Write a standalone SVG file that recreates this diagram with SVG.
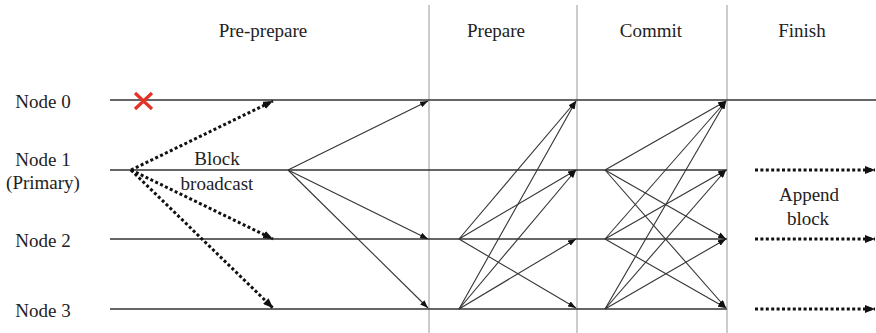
<svg xmlns="http://www.w3.org/2000/svg" width="876" height="333" viewBox="0 0 876 333">
  <style>
    text { font-family: "Liberation Serif", "Times New Roman", serif; font-size: 19px; fill: #222; }
    .mid { text-anchor: middle; }
    .lane { stroke: #333; stroke-width: 1.5; fill: none; }
    .phase { stroke: #999; stroke-width: 1; fill: none; }
    .msg { stroke: #333; stroke-width: 1.1; fill: none; marker-end: url(#arrow); }
    .bcast { stroke: #111; stroke-width: 3; stroke-dasharray: 3 2.4; fill: none; marker-end: url(#arrowBig); }
  </style>
  <defs>
    <marker id="arrow" markerUnits="userSpaceOnUse" viewBox="0 0 8 6" refX="8" refY="3" markerWidth="8" markerHeight="6" orient="auto">
      <path d="M0,0 L8,3 L0,6 Z" fill="#111"/>
    </marker>
    <marker id="arrowBig" markerUnits="userSpaceOnUse" viewBox="0 0 10 8" refX="10" refY="4" markerWidth="10" markerHeight="8" orient="auto">
      <path d="M0,0 L10,4 L0,8 Z" fill="#111"/>
    </marker>
  </defs>

  <!-- phase separators -->
  <g id="separators">
    <line class="phase" x1="429" y1="5" x2="429" y2="333"/>
    <line class="phase" x1="577" y1="5" x2="577" y2="333"/>
    <line class="phase" x1="727" y1="5" x2="727" y2="333"/>
  </g>

  <!-- phase titles -->
  <g id="phases">
    <text class="mid" x="263" y="37">Pre-prepare</text>
    <text class="mid" x="496" y="37">Prepare</text>
    <text class="mid" x="651" y="37">Commit</text>
    <text class="mid" x="802" y="37">Finish</text>
  </g>

  <!-- replica timelines -->
  <g id="node0">
    <text class="mid" x="43" y="108">Node 0</text>
    <line class="lane" x1="110" y1="100" x2="876" y2="100"/>
    <path d="M135,93 L152,109 M152,93 L135,109" stroke="#e53228" stroke-width="3.2" fill="none"/>
  </g>
  <g id="node1">
    <text class="mid" x="43" y="166">Node 1</text>
    <text class="mid" x="43" y="189">(Primary)</text>
    <line class="lane" x1="110" y1="170" x2="727" y2="170"/>
  </g>
  <g id="node2">
    <text class="mid" x="43" y="247">Node 2</text>
    <line class="lane" x1="110" y1="239" x2="727" y2="239"/>
  </g>
  <g id="node3">
    <text class="mid" x="43" y="317">Node 3</text>
    <line class="lane" x1="110" y1="309" x2="727" y2="309"/>
  </g>

  <!-- messages -->
  <g id="connectors">
    <!-- pre-prepare: block broadcast from the primary -->
    <line class="bcast" x1="131" y1="170" x2="273" y2="101"/>
    <line class="bcast" x1="131" y1="170" x2="273" y2="239"/>
    <line class="bcast" x1="131" y1="170" x2="273" y2="308"/>
    <!-- pre-prepare -->
    <line class="msg" x1="288" y1="170" x2="428" y2="101"/>
    <line class="msg" x1="288" y1="170" x2="428" y2="239"/>
    <line class="msg" x1="288" y1="170" x2="428" y2="308"/>
    <!-- prepare -->
    <line class="msg" x1="459" y1="239" x2="576" y2="101"/>
    <line class="msg" x1="459" y1="239" x2="576" y2="170"/>
    <line class="msg" x1="459" y1="239" x2="576" y2="308"/>
    <line class="msg" x1="459" y1="309" x2="576" y2="101"/>
    <line class="msg" x1="459" y1="309" x2="576" y2="170"/>
    <line class="msg" x1="459" y1="309" x2="576" y2="239"/>
    <!-- commit -->
    <line class="msg" x1="605" y1="170" x2="726" y2="101"/>
    <line class="msg" x1="605" y1="170" x2="726" y2="239"/>
    <line class="msg" x1="605" y1="170" x2="726" y2="308"/>
    <line class="msg" x1="605" y1="239" x2="726" y2="101"/>
    <line class="msg" x1="605" y1="239" x2="726" y2="170"/>
    <line class="msg" x1="605" y1="239" x2="726" y2="308"/>
    <line class="msg" x1="605" y1="309" x2="726" y2="101"/>
    <line class="msg" x1="605" y1="309" x2="726" y2="170"/>
    <line class="msg" x1="605" y1="309" x2="726" y2="239"/>
    <!-- finish: append block -->
    <line class="bcast" x1="755" y1="170" x2="875" y2="170"/>
    <line class="bcast" x1="755" y1="239" x2="875" y2="239"/>
    <line class="bcast" x1="755" y1="309" x2="875" y2="309"/>
  </g>

  <!-- message labels -->
  <g id="labels">
    <text class="mid" x="217" y="165">Block</text>
    <text class="mid" x="217" y="190">broadcast</text>
    <text class="mid" x="809" y="201">Append</text>
    <text class="mid" x="808" y="225">block</text>
  </g>
</svg>
